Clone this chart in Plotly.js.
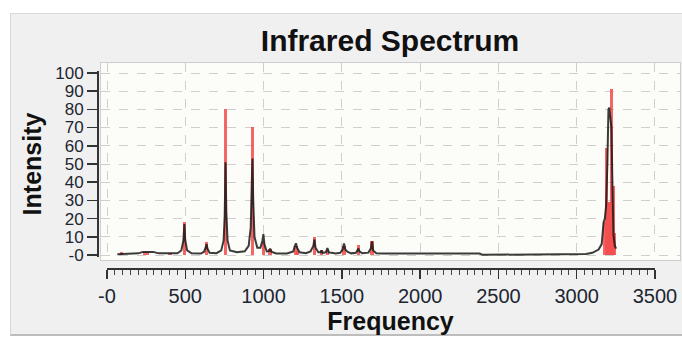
<!DOCTYPE html>
<html>
<head>
<meta charset="utf-8">
<script src="https://cdn.plot.ly/plotly-3.0.1.min.js"></script>
<style>
  html, body { margin: 0; padding: 0; background: #ffffff; width: 682px; height: 345px; overflow: hidden; }
  #frame { position: absolute; left: 10px; top: 13px; width: 672px; height: 320px;
           background: #f0f0f0; border-top: 1px solid #d9d9d9; border-left: 1px solid #d9d9d9;
           border-bottom: 2px solid #bdbdbd; }
  #chart { position: absolute; left: 0; top: 0; width: 682px; height: 345px; }
</style>
</head>
<body>
<div id="frame"></div>
<div id="chart"></div>
<script>
// Calculated line intensities (red sticks)
const stickFreq = [94, 238, 258, 402, 494, 636, 758, 928, 1000, 1041, 1207, 1216, 1326, 1371, 1408, 1514, 1605, 1693,
                   3176, 3188, 3200, 3212, 3222, 3232, 3242];
const stickInt  = [1.5, 1.5, 1.5, 1.0, 18, 7.3, 80.5, 70.5, 7, 3.5, 5, 2, 10, 2.7, 2.5, 5, 5.5, 7.7,
                   18, 59, 29, 29, 91, 38, 12];

// Broadened spectrum (black line)
const curveFreq = [66, 150, 200, 230, 260, 295, 330, 400, 450, 475, 488, 494, 500, 512, 540, 600, 620, 630, 636, 642, 655,
                   700, 730, 745, 752, 757, 762, 770, 785, 830, 880, 905, 918, 925, 929, 934, 942, 960, 980, 993, 999,
                   1005, 1020, 1035, 1042, 1050, 1080, 1150, 1190, 1200, 1207, 1214, 1230, 1270, 1300, 1318, 1325, 1332,
                   1350, 1365, 1371, 1378, 1398, 1408, 1418, 1435, 1460, 1490, 1505, 1514, 1522, 1535, 1560, 1590, 1600,
                   1606, 1612, 1630, 1670, 1685, 1693, 1700, 1720, 1760, 2000, 2380, 2400, 3000, 3060, 3100, 3140, 3160,
                   3172, 3180, 3188, 3196, 3203, 3208, 3215, 3222, 3228, 3235, 3244, 3252];
const curveInt  = [0.4, 0.5, 0.9, 1.7, 1.8, 1.7, 0.9, 0.7, 0.9, 2.5, 8, 17, 8, 2.5, 0.9, 0.8, 1.8, 4, 6, 3.5, 1.2,
                   1.0, 2.5, 8, 22, 51, 24, 8, 2.5, 1.5, 2, 5, 15, 40, 53, 30, 10, 4, 4, 8, 11.5,
                   6, 2, 2.2, 3.5, 1.8, 0.8, 0.8, 2, 5, 6.4, 4, 1.5, 1, 2, 5, 8.5, 4,
                   1.5, 1.5, 2.5, 1.2, 1.5, 3.8, 1.3, 1.2, 0.8, 1.2, 3, 6.4, 3, 1.8, 0.9, 1.2, 2.8,
                   3.5, 2, 1, 1.3, 3.5, 7.5, 2.5, 1, 0.8, 0.8, 0.8, 0.1, 0.1, 0.5, 1.2, 3, 6,
                   18, 20, 27, 50, 80, 81, 73, 70, 40, 11, 5, 3.5];

// Axis ticks
const yTickVals = [0, 10, 20, 30, 40, 50, 60, 70, 80, 90, 100];
const yTickText = ['-0', '10', '20', '30', '40', '50', '60', '70', '80', '90', '100'];
const xTickVals = [0, 500, 1000, 1500, 2000, 2500, 3000, 3500];
const xTickText = ['-0', '500', '1000', '1500', '2000', '2500', '3000', '3500'];

const W = 682, H = 345;
const ML = 97, MR = 2, MT = 63, MB = 77;
const PW = W - ML - MR, PH = H - MT - MB;
const px = v => (v - ML) / PW;          // paper x from page pixel
const py = v => (H - MB - v) / PH;      // paper y from page pixel

const tickFamily = 'Liberation Sans, Arial, sans-serif';
const boldFont = 'Liberation Sans, Arial, sans-serif';

const traces = [
  {
    type: 'bar', x: stickFreq, y: stickInt, width: 20,
    marker: { color: 'rgba(242,75,75,0.85)', line: { width: 0 } },
    xaxis: 'x', yaxis: 'y', hoverinfo: 'x+y', showlegend: false
  },
  {
    type: 'scatter', mode: 'lines', x: curveFreq, y: curveInt,
    line: { color: 'rgba(25,25,25,0.85)', width: 2 },
    xaxis: 'x', yaxis: 'y', showlegend: false
  },
  { type: 'scatter', mode: 'markers', x: [], y: [], xaxis: 'x2', yaxis: 'y2', showlegend: false, hoverinfo: 'skip' }
];

const layout = {
  width: W, height: H,
  margin: { l: ML, r: MR, t: MT, b: MB, pad: 0 },
  paper_bgcolor: 'rgba(0,0,0,0)',
  plot_bgcolor: 'rgba(0,0,0,0)',
  showlegend: false,
  bargap: 0, barmode: 'overlay',
  title: {
    text: 'Infrared Spectrum',
    font: { family: boldFont, size: 30, color: '#111', weight: 'bold' },
    xref: 'paper', x: px(390), xanchor: 'center',
    yref: 'container', y: 1 - 40 / H, yanchor: 'middle'
  },
  xaxis: {
    domain: [px(101), 1],
    range: [-38.3, 3660],
    showticklabels: false, ticks: '',
    showgrid: true, tick0: 0, dtick: 500,
    gridcolor: '#cfcfcf', griddash: 'dash', gridwidth: 1,
    zeroline: false,
    showline: true, mirror: true, linecolor: '#cdcdcd', linewidth: 1,
    title: { text: 'Frequency', font: { family: boldFont, size: 25, color: '#111', weight: 'bold' }, standoff: 52 },
    fixedrange: true
  },
  yaxis: {
    domain: [py(260), 1],
    range: [-2.75, 105.5],
    showticklabels: false, ticks: '',
    showgrid: true, tick0: 0, dtick: 10,
    gridcolor: '#cfcfcf', griddash: 'dash', gridwidth: 1,
    zeroline: false,
    showline: true, mirror: true, linecolor: '#cdcdcd', linewidth: 1,
    fixedrange: true
  },
  xaxis2: {
    domain: [px(107), px(655)],
    anchor: 'free', position: 0,
    range: [0, 3500],
    tickmode: 'array', tickvals: xTickVals, ticktext: xTickText,
    ticks: 'outside', ticklen: 9, tickwidth: 1.5, tickcolor: '#333',
    minor: { dtick: 50, tick0: 0, ticks: 'outside', ticklen: 5, tickwidth: 1, tickcolor: '#444', showgrid: false },
    tickfont: { family: tickFamily, size: 20, color: '#1c2630' },
    showline: true, linecolor: '#333', linewidth: 1.5,
    showgrid: false, zeroline: false, fixedrange: true
  },
  yaxis2: {
    domain: [py(257), py(71)],
    anchor: 'free', position: 0,
    range: [-1, 101],
    tickmode: 'array', tickvals: yTickVals, ticktext: yTickText,
    ticks: 'outside', ticklen: 10, tickwidth: 1.5, tickcolor: '#333',
    tickfont: { family: tickFamily, size: 17, color: '#1c2630' },
    showline: true, linecolor: '#333', linewidth: 1.5,
    showgrid: false, zeroline: false, fixedrange: true,
    title: { text: 'Intensity', font: { family: boldFont, size: 25, color: '#111', weight: 'bold' }, standoff: 5 }
  },
  shapes: [
    { type: 'rect', xref: 'paper', yref: 'paper', layer: 'below',
      x0: px(101), x1: 1, y0: py(260), y1: 1,
      fillcolor: '#fcfcf8', line: { width: 0 } }
  ]
};

Plotly.newPlot('chart', traces, layout, { displayModeBar: false, staticPlot: true });
</script>
</body>
</html>
